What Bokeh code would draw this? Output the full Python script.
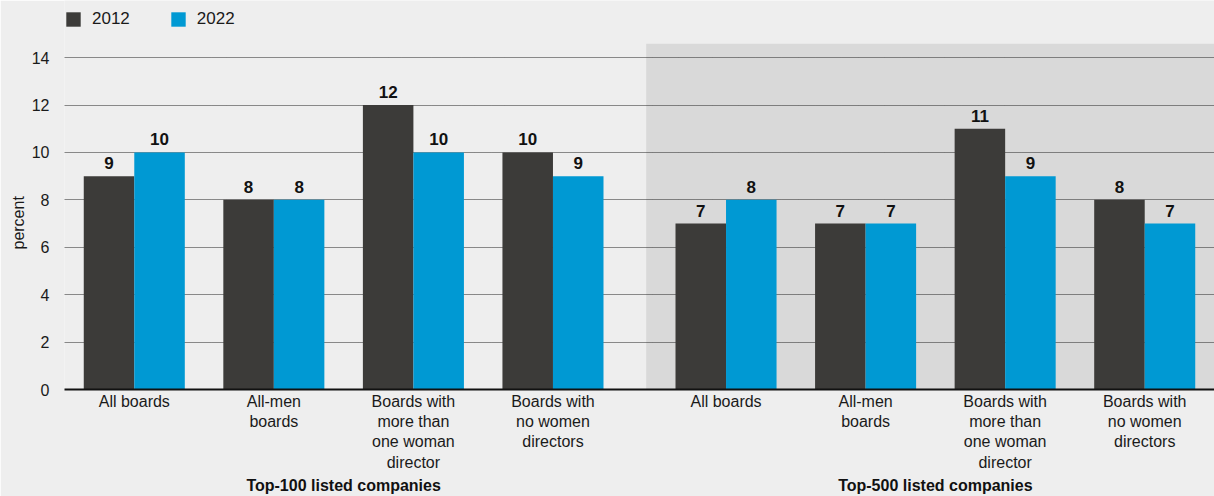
from bokeh.plotting import figure
from bokeh.models import (FactorRange, FixedTicker, BoxAnnotation, Legend, LegendItem,
                          ColumnDataSource, LabelSet, Title)
from bokeh.transform import dodge
from bokeh.core.properties import value
from bokeh.embed import file_html
from bokeh.resources import INLINE

# ---- data ----
panels = ["Top-100 listed companies", "Top-500 listed companies"]
categories = ["All boards", "All-men\nboards",
              "Boards with\nmore than\none woman\ndirector",
              "Boards with\nno women\ndirectors"]
years = ["2012", "2022"]
values_2012_top100 = [9, 8, 12, 10]
values_2022_top100 = [10, 8, 10, 9]
values_2012_top500 = [7, 7, 11, 8]
values_2022_top500 = [8, 7, 9, 7]
y_ticks = [0, 2, 4, 6, 8, 10, 12, 14]
y_label = "percent"

FONT = "Liberation Sans"
TXT = "#1a1a1a"
DARK = "#3c3b39"
BLUE = "#0099d3"
BG = "#eeeeee"
SHADE = "#d9d9d9"

factors = [(pn, c) for pn in panels for c in categories]
v2012 = values_2012_top100 + values_2012_top500
v2022 = values_2022_top100 + values_2022_top500
src = ColumnDataSource(dict(x=factors, v2012=v2012, v2022=v2022,
                            l2012=[str(v) for v in v2012],
                            l2022=[str(v) for v in v2022]))

GP = 0.24
xr = FactorRange(*factors, factor_padding=0.0, group_padding=GP, range_padding=0.0)

ytop = max(y_ticks)
p = figure(width=1214, height=496, x_range=xr, y_range=(0, ytop + 2.41),
           output_backend="svg", toolbar_location=None,
           background_fill_color=BG, border_fill_color=BG,
           min_border_left=64, min_border_right=0, min_border_top=0, min_border_bottom=0,
           outline_line_color=None)

# shaded panel for the second group
shade = BoxAnnotation(left=4 + 0.7 * GP, top=ytop + 0.59, bottom=-30,
                      fill_color=SHADE, fill_alpha=1.0, line_color=None, level="image")
p.add_layout(shade)

W = 0.362
r1 = p.vbar(x=dodge("x", -W / 2, range=p.x_range), top="v2012", width=W, source=src,
            fill_color=DARK, line_color=None)
r2 = p.vbar(x=dodge("x", W / 2, range=p.x_range), top="v2022", width=W, source=src,
            fill_color=BLUE, line_color=None)

for col, ycol, off in (("l2012", "v2012", -W / 2), ("l2022", "v2022", W / 2)):
    p.add_layout(LabelSet(x=dodge("x", off, range=p.x_range), y=ycol, text=col, source=src,
                          text_align="center", text_baseline="alphabetic", y_offset=7,
                          text_font=value(FONT), text_font_style="bold",
                          text_font_size="17px", text_color="#111111"))

# y axis
p.yaxis.ticker = FixedTicker(ticks=y_ticks)
p.yaxis.major_label_text_font = FONT
p.yaxis.major_label_text_font_size = "16px"
p.yaxis.major_label_text_color = TXT
p.yaxis.major_label_standoff = 15
p.yaxis.axis_line_color = None
p.yaxis.major_tick_line_color = None
p.yaxis.minor_tick_line_color = None
p.yaxis.major_tick_in = 0
p.yaxis.major_tick_out = 0

# y-axis title as a side title, placed beside the middle of the tick span
p.add_layout(Title(text=y_label, align="left", offset=140, standoff=4,
                   text_font=FONT, text_font_size="16px", text_font_style="normal",
                   text_color=TXT), "left")

p.ygrid.grid_line_color = "#222222"
p.ygrid.grid_line_dash = "1 1"
p.ygrid.grid_line_width = 1
p.xgrid.grid_line_color = None

# x axis
xa = p.xaxis[0]
xa.axis_line_color = "#111111"
xa.axis_line_width = 2
xa.major_tick_line_color = None
xa.major_tick_in = 0
xa.major_tick_out = 0
xa.major_label_orientation = "horizontal"
xa.major_label_text_font = FONT
xa.major_label_text_font_size = "16px"
xa.major_label_text_color = TXT
xa.major_label_standoff = 3
xa.group_text_font = FONT
xa.group_text_font_size = "16px"
xa.group_text_font_style = "bold"
xa.group_text_color = "#111111"
xa.group_label_orientation = "horizontal"
xa.separator_line_alpha = 0

legend = Legend(items=[LegendItem(label=years[0], renderers=[r1]),
                       LegendItem(label=years[1], renderers=[r2])],
                orientation="horizontal", location=(0, 360),
                background_fill_alpha=0, border_line_color=None,
                label_text_font=FONT, label_text_font_size="17px", label_text_color=TXT,
                glyph_width=18, glyph_height=18, label_standoff=10, spacing=39,
                padding=0, margin=0)
p.add_layout(legend)

html = file_html(p, INLINE)
html = html.replace("<body>", '<body style="background:#eeeeee">', 1)
open("out.html", "w").write(html)
